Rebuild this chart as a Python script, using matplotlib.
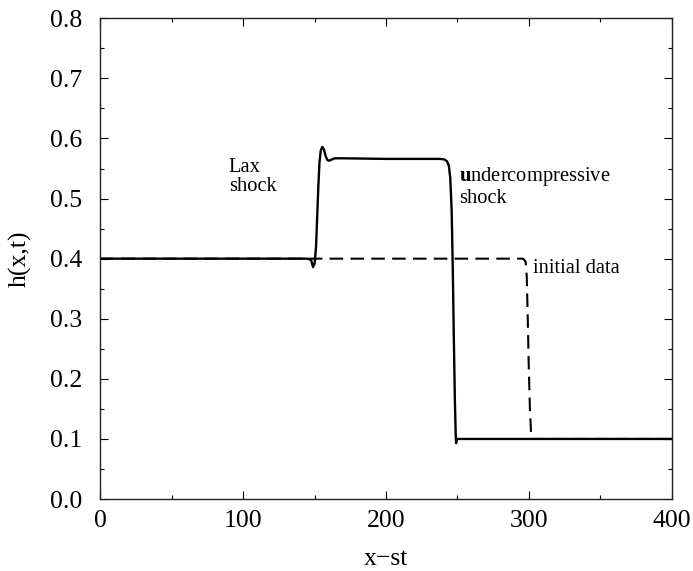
import matplotlib
matplotlib.use("Agg")
import matplotlib.pyplot as plt
from matplotlib.ticker import MultipleLocator, FormatStrFormatter

plt.rcParams['font.family'] = ['Liberation Serif', 'DejaVu Serif']
plt.rcParams['mathtext.fontset'] = 'custom'
plt.rcParams['mathtext.bf'] = 'Liberation Serif:bold'
plt.rcParams['mathtext.rm'] = 'Liberation Serif'

# solid curve: h(x,t) at later time
sol_x = [0, 145, 147.5, 148.9, 150.0, 151.0, 151.8, 152.6, 153.4, 154.3, 155.4, 156.5, 157.8, 159.0, 160.3,
         162.0, 164.0, 170, 200, 238, 241, 242.7, 244.0, 245.0, 246.0, 246.8, 247.5, 248.2, 248.8, 249.1, 249.6, 400]
sol_h = [0.4, 0.4, 0.398, 0.386, 0.392, 0.42, 0.47, 0.52, 0.56, 0.58, 0.586, 0.582, 0.570, 0.564, 0.563,
         0.565, 0.567, 0.567, 0.566, 0.566, 0.565, 0.562, 0.555, 0.535, 0.48, 0.38, 0.27, 0.17, 0.11, 0.093, 0.1, 0.1]

# dashed curve: initial data
ini_x = [0, 296, 297.8, 298.6, 299.3, 300.0, 300.8, 301.6, 302.3, 400]
ini_h = [0.4, 0.4, 0.395, 0.37, 0.30, 0.22, 0.15, 0.11, 0.1, 0.1]

fig = plt.figure(figsize=(6.93, 5.71), dpi=100)
ax = fig.add_axes([0.145, 0.126, 0.824, 0.842])

ax.plot(sol_x, sol_h, color='black', lw=1.7, solid_joinstyle='round')
ax.plot(ini_x, ini_h, color='black', lw=1.5, dashes=(6.5, 3.5))

ax.set_xlim(0, 400)
ax.set_ylim(0, 0.8)
ax.xaxis.set_major_locator(MultipleLocator(100))
ax.xaxis.set_minor_locator(MultipleLocator(50))
ax.yaxis.set_major_locator(MultipleLocator(0.1))
ax.yaxis.set_minor_locator(MultipleLocator(0.05))
ax.yaxis.set_major_formatter(FormatStrFormatter('%.1f'))
ax.tick_params(which='both', direction='in', top=True, right=True, labelsize=18.5, colors='black')
ax.tick_params(which='major', length=6, width=0.8)
ax.tick_params(which='minor', length=3, width=0.8)
ax.tick_params(axis='x', which='major', pad=8)
ax.tick_params(axis='y', which='major', pad=13)
for s in ax.spines.values():
    s.set_linewidth(1.0)
    s.set_color('#222222')

ax.set_xlabel('x\u2212st', fontsize=18.5)
ax.set_ylabel('h(x,t)', fontsize=18.5)
ax.xaxis.set_label_coords(0.5, (499 - 548) / 481)
ax.yaxis.set_label_coords((32 - 100.5) / 571, 0.5)

ax.text(90, 0.568, 'Lax\nshock', fontsize=14.8, va='top', ha='left', linespacing=1.05)
ax.text(251, 0.556, r'$\mathbf{u}$ndercompressive' + '\nshock', fontsize=14.8, va='top', ha='left', linespacing=1.05)
ax.text(303, 0.383, 'initial data', fontsize=14.8, va='center', ha='left')

fig.savefig('out.png', dpi=100)
